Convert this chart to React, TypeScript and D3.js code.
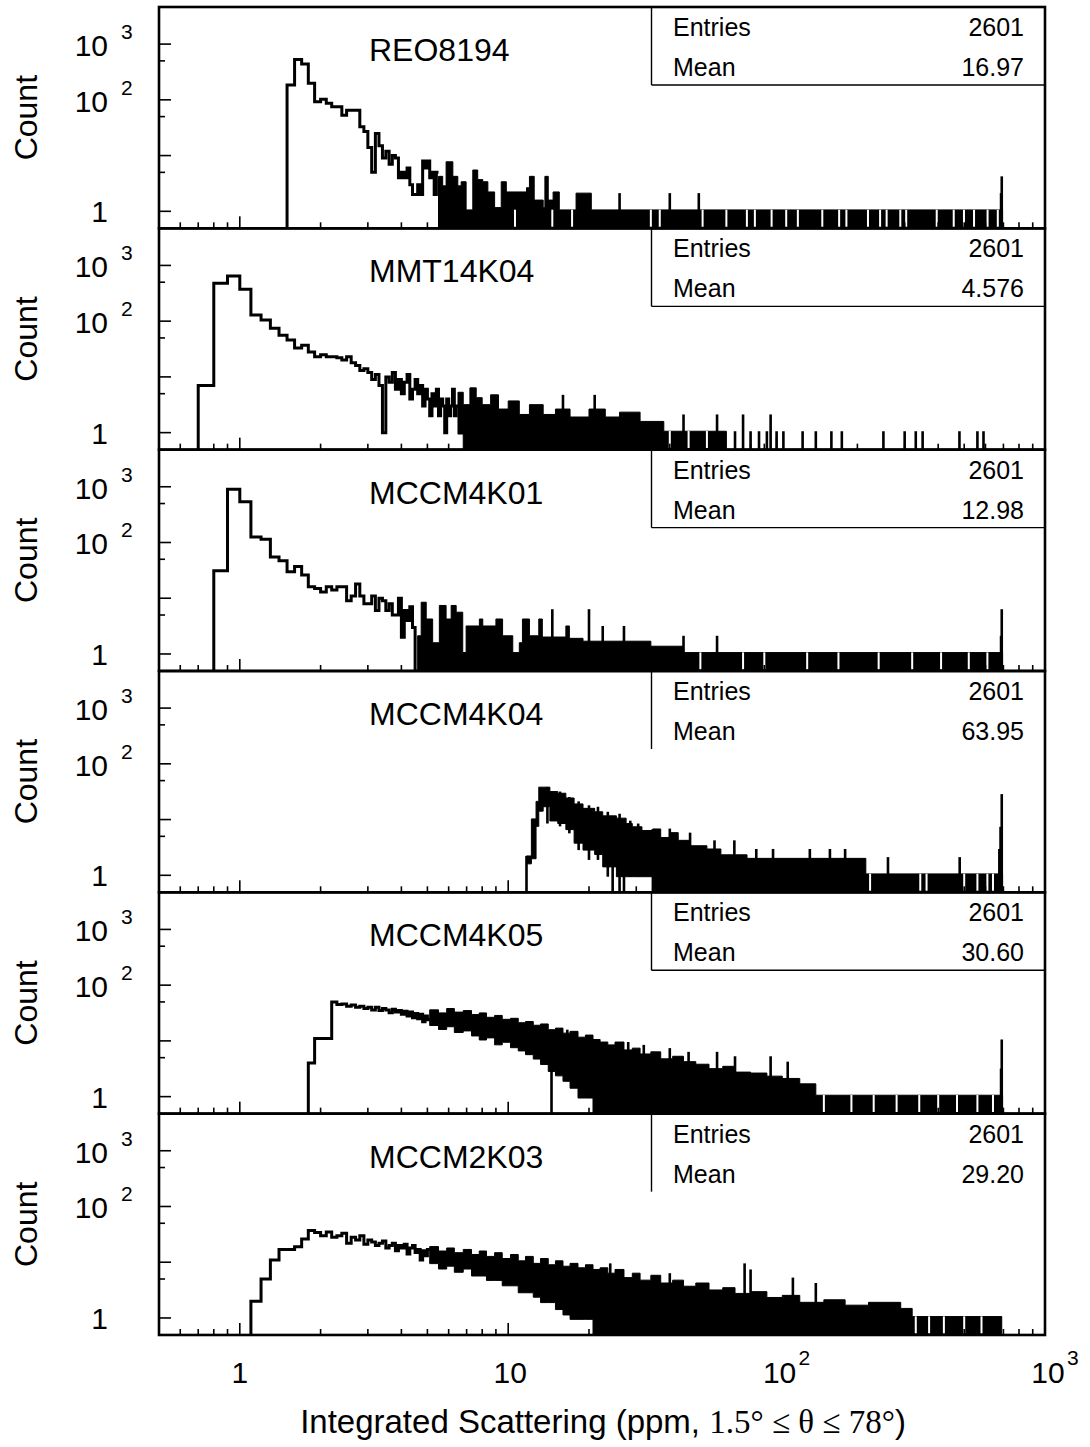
import React from 'react';
import * as d3 from 'd3';

// dense part of each histogram, read as a stepped envelope: [x, topCount, bottomCount] (0 = down to axis)
type Node = [number, number, number];
// single narrow bins sticking out of the envelope: [x, topCount, bottomCount]
type Spike = [number, number, number];

const names = ['REO8194', 'MMT14K04', 'MCCM4K01', 'MCCM4K04', 'MCCM4K05', 'MCCM2K03'];
const entries = ['2601', '2601', '2601', '2601', '2601', '2601'];
const means = ['16.97', '4.576', '12.98', '63.95', '30.60', '29.20'];
const closedBox = [true, true, true, false, true, false];

const xMajor = [1, 10, 100];
const xMinor = [0.6, 0.7, 0.8, 0.9, 2, 3, 4, 5, 6, 7, 8, 9, 20, 30, 40, 50, 60, 70, 80, 90, 200, 300, 400, 500, 600, 700, 800, 900];
const yMajor = [1, 10, 100, 1000];
const yMinor = [5, 50, 500];

// REO8194 (bins of 0.1 ppm from start)
const reoStart = 1.5;
const reoCounts = [185, 530, 440, 198, 92, 102, 87, 75, 75, 53, 65, 65, 65, 33, 27, 14, 5, 25, 15, 9,
  12, 7, 10, 9, 4, 5, 4, 6, 3, 2, 2, 3, 2, 8, 6, 8, 4, 5, 2, 5];
const reoEnv: Node[] = [[5.5, 4, 0], [5.7, 2.7, 0], [5.87, 7.3, 0], [6.22, 4, 0], [6.49, 2.7, 0], [6.68, 3.2, 0],
  [6.97, 1, 0], [7.38, 5.2, 0], [7.7, 3.5, 0], [8.04, 3.2, 0], [8.4, 2.1, 0], [8.9, 1.1, 0], [9.42, 3.2, 0],
  [9.84, 2.1, 0], [11.7, 2.5, 0], [12.0, 4, 0], [12.5, 1.5, 0], [13.5, 1.1, 0], [13.7, 4, 0], [14.1, 1.5, 0],
  [14.7, 2.1, 0], [15.5, 1, 0], [17.9, 2, 0], [20.4, 1, 0], [695, 1, 0]];
const reoSpikes: Spike[] = [[26, 2, 0], [40, 2, 0], [51.3, 2, 0], [686, 2, 0], [690, 4, 0]];
const reoGaps = [10.6, 14.6, 17.3, 34, 36.7, 53, 65, 77.5, 83, 95.8, 108.6, 120, 148, 171, 182, 219, 243, 257,
  289, 304, 395, 457, 499, 544, 611, 667];

// MMT14K04
const mmtStart = 0.7;
const mmtCounts = [7, 478, 648, 373, 129, 105, 75, 56, 46, 33, 37, 28, 23, 25, 23, 23, 22, 20, 23, 18, 16,
  13, 14, 12, 9, 11, 7, 1, 10, 8, 12, 6, 9, 5, 8, 11, 4, 6, 9, 5, 7, 3, 6, 4, 2, 5, 3, 6, 2, 4, 3, 1, 4,
  2, 3, 6, 2, 3];
const mmtEnv: Node[] = [[6.5, 5, 1], [6.8, 3, 0], [7.2, 6, 0], [7.6, 4, 0], [8.0, 3, 0], [8.6, 4.5, 0],
  [9.2, 2.5, 0], [10, 3.5, 0], [11, 2, 0], [12, 3, 0], [13.5, 2, 0], [15, 2.5, 0], [17, 1.8, 0], [20, 2.5, 0],
  [23, 1.8, 0], [26, 2.2, 0], [31, 1.5, 0], [38, 1, 0], [65, 1, 0]];
const mmtSpikes: Spike[] = [[16, 4.5, 0], [21, 4.5, 0], [45, 2, 0], [60, 2, 0],
  [70, 1, 0], [75, 2, 0], [80, 1, 0], [86, 1, 0], [92, 1, 0], [95, 2, 0], [100, 1, 0], [106, 1, 0], [125, 1, 0],
  [140, 1, 0], [160, 1, 0], [175, 1, 0], [250, 1, 0], [300, 1, 0], [330, 1, 0], [350, 1, 0], [480, 1, 0],
  [560, 1, 0], [590, 1, 0]];
const mmtGaps = [40, 47, 55];

// MCCM4K01
const k01Start = 0.8;
const k01Counts = [31, 900, 540, 126, 114, 55, 47, 30, 37, 26, 16, 15, 13, 16, 14, 16, 16, 9, 11, 18, 11,
  8, 8, 11, 6, 10, 9, 6, 8, 5, 5, 10, 2, 6, 4, 7, 3, 0];
const k01Env: Node[] = [[4.6, 2, 0], [4.74, 8, 0], [4.95, 4, 0], [5.23, 1.5, 0], [5.54, 7, 0], [5.87, 4, 0],
  [6.13, 7, 0], [6.4, 5.3, 0], [6.77, 1, 0], [6.97, 3, 0], [7.81, 4, 0], [8.04, 3, 0], [9.0, 4, 0], [9.53, 2, 0],
  [10.4, 1, 0], [11.0, 1.5, 0], [11.3, 4, 0], [12.0, 2, 0], [13.0, 4, 0], [13.4, 1.9, 0], [16.4, 3, 0],
  [16.9, 1.8, 0], [19.0, 1.6, 0], [34, 1.3, 0], [45, 1, 0], [695, 1, 0]];
const k01Spikes: Spike[] = [[14.6, 6, 0], [20, 6, 0], [22.5, 3, 0], [27, 3, 0], [45, 2, 0], [60, 2, 0],
  [686, 2, 0], [690, 6, 0]];
const k01Gaps = [52, 75, 90, 130, 170, 240, 320, 410, 520, 610];

// MCCM4K04 (no resolvable bins, envelope only)
const k04Start = 11.7;
const k04Counts: number[] = [];
const k04Env: Node[] = [[11.7, 2.1, 1.7], [12.2, 9.7, 2.1], [12.7, 20, 8], [13.0, 36, 15], [13.5, 36, 18],
  [14.3, 30, 10], [15.3, 28, 9], [16.4, 23, 7], [17.6, 18, 4], [19.0, 15, 3], [21, 13, 2.5], [22.5, 11, 1.5],
  [25.3, 10, 1], [27.5, 8, 1], [29, 7, 1], [31.5, 6, 1], [34.6, 6.4, 0], [37, 4.5, 0], [40, 5.5, 0], [43, 4, 0],
  [47.5, 3.2, 0], [55, 2.8, 0], [62, 2.2, 0], [77.6, 1.9, 0], [215, 1, 0], [695, 1, 0]];
const k04Spikes: Spike[] = [[11.7, 2.1, 0], [14.0, 36, 9], [15.6, 30, 8], [16.9, 24, 6], [18.3, 20, 3],
  [20, 17, 2], [21.6, 16, 2], [23.5, 13, 1], [24.5, 3, 0], [26, 12, 0], [27, 3, 0], [28.5, 9, 1], [30.5, 8, 1],
  [34.6, 6.4, 0], [40, 6.5, 0], [47.6, 5.5, 0], [58.7, 4, 0], [69.6, 4, 0], [84, 2.8, 0], [97, 2.8, 0],
  [133, 2.8, 0], [158, 2.8, 0], [180, 2.8, 0], [260, 2, 0], [481, 2, 0], [676, 2.8, 0], [683, 7, 0], [690, 27, 0]];
const k04Gaps = [223, 343, 362, 500, 560, 610, 640];

// MCCM4K05
const k05Start = 1.8;
const k05Counts = [4, 11, 11, 11, 50, 45, 46, 42, 44, 40, 42, 38, 40, 36, 40, 35, 38, 36, 32, 37, 33, 35,
  30, 34, 28, 33, 26, 31, 25, 30, 22, 28, 24];
const k05Env: Node[] = [[5.1, 34, 20], [5.5, 30, 17], [5.9, 36, 19], [6.3, 31, 15], [6.8, 33, 16], [7.3, 28, 13],
  [7.8, 30, 11], [8.3, 25, 12], [8.9, 27, 9], [9.5, 23, 10], [10.2, 24, 8], [10.9, 20, 7], [11.6, 21, 6],
  [12.4, 18, 5], [13.2, 19, 4], [14.1, 15, 3], [15, 16, 2.5], [16, 13, 2], [17, 14, 1.5], [18.2, 11, 1],
  [19.4, 12, 1], [20.7, 10, 0], [22, 9, 0], [23.5, 8, 0], [25, 9, 0], [27, 6.5, 0], [29, 7, 0], [31, 5.5, 0],
  [34, 6, 0], [37, 4.5, 0], [41, 5, 0], [45, 4, 0], [50, 3.6, 0], [56, 3, 0], [63, 3.3, 0], [70, 2.6, 0],
  [80, 2.5, 0], [92, 2.2, 0], [105, 2, 0], [122, 1.6, 0], [140, 1, 0], [695, 1, 0]];
const k05Spikes: Spike[] = [[14.5, 12, 0], [16.6, 15, 2], [20, 12, 1], [28, 9, 0], [32, 8, 0], [40, 7, 0],
  [47, 6, 0], [60, 6, 0], [70, 5, 0], [95, 5, 0], [110, 4, 0], [686, 3, 0], [690, 10, 0]];
const k05Gaps = [150, 190, 230, 280, 340, 400, 470, 560, 640];

// MCCM2K03
const k03Start = 1.1;
const k03Counts = [2, 5, 11, 17, 17, 19, 26, 37, 34, 30, 35, 28, 30, 33, 22, 28, 25, 30, 21, 25, 23, 20,
  22, 24, 18, 20, 22, 16, 20, 18, 21, 14, 18, 20, 15, 17, 11, 16, 13, 17];
const k03Env: Node[] = [[5.1, 18, 10], [5.5, 15, 8], [5.9, 17, 9], [6.3, 14, 7], [6.8, 16, 8], [7.3, 13, 6],
  [7.8, 15, 6], [8.3, 12, 5], [8.9, 14, 5], [9.5, 11, 4], [10.2, 13, 4], [10.9, 10, 3], [11.6, 12, 3],
  [12.4, 9, 2.5], [13.2, 11, 2], [14.1, 8.5, 2], [15, 10, 1.5], [16, 8, 1.2], [17, 9, 1], [18.2, 7.5, 1],
  [19.4, 8.5, 1], [20.7, 7, 0], [22, 7.5, 0], [23.5, 6, 0], [25, 7, 0], [27, 5, 0], [29, 6, 0], [31, 4.5, 0],
  [34, 5.5, 0], [37, 4, 0], [41, 4.5, 0], [45, 3.5, 0], [50, 4, 0], [56, 3, 0], [63, 3.3, 0], [70, 2.6, 0],
  [80, 2.8, 0], [92, 2.2, 0], [105, 2.4, 0], [122, 1.8, 0], [150, 2, 0], [180, 1.6, 0], [220, 1.8, 0],
  [290, 1.4, 0], [320, 1, 0], [690, 1, 0]];
const k03Spikes: Spike[] = [[24, 9, 0], [40, 6, 0], [76, 9, 0], [80, 7, 0], [115, 5, 0], [140, 4, 0]];
const k03Gaps = [330, 370, 420, 500, 580];

const hists = [
  { start: reoStart, counts: reoCounts, env: reoEnv, spikes: reoSpikes, gaps: reoGaps },
  { start: mmtStart, counts: mmtCounts, env: mmtEnv, spikes: mmtSpikes, gaps: mmtGaps },
  { start: k01Start, counts: k01Counts, env: k01Env, spikes: k01Spikes, gaps: k01Gaps },
  { start: k04Start, counts: k04Counts, env: k04Env, spikes: k04Spikes, gaps: k04Gaps },
  { start: k05Start, counts: k05Counts, env: k05Env, spikes: k05Spikes, gaps: k05Gaps },
  { start: k03Start, counts: k03Counts, env: k03Env, spikes: k03Spikes, gaps: k03Gaps },
];

const W = 1090;
const H = 1447;
const left = 159;
const right = 1045;
const top0 = 7;
const panelH = 221.33;
const binW = 0.1;
const sans = '"Liberation Sans", Arial, Helvetica, sans-serif';
const serif = '"Liberation Serif", "Times New Roman", serif';

const x = d3.scaleLog().domain([0.5, 1000]).range([left, right]);

function Panel({ i }: { i: number }) {
  const h = hists[i];
  const top = top0 + i * panelH;
  const bottom = top + panelH;
  const y = d3.scaleLog().domain([0.495, 4630]).range([bottom, top]);
  const yc = (c: number) => (c < 0.9 ? bottom + 3 : y(c));

  const pts: [number, number][] = [];
  if (h.counts.length) {
    pts.push([x(h.start), bottom + 3]);
    h.counts.forEach((c, k) => {
      const e0 = +(h.start + k * binW).toFixed(2);
      const e1 = +(h.start + (k + 1) * binW).toFixed(2);
      pts.push([x(e0), yc(c)]);
      pts.push([x(e1), yc(c)]);
    });
  }
  const line = d3.line();
  const area = d3.area<Node>()
    .curve(d3.curveStepAfter)
    .x((d) => x(d[0]))
    .y0((d) => yc(d[2]) + 1.4)
    .y1((d) => y(d[1]) - 1.4);
  const clipId = `clip${i}`;
  const boxL = 651.5;
  const boxB = top + 78;

  return (
    <g>
      <defs>
        <clipPath id={clipId}>
          <rect x={left} y={top} width={right - left} height={panelH} />
        </clipPath>
      </defs>
      <g clipPath={`url(#${clipId})`}>
        <path d={area(h.env) || ''} fill="#000" stroke="#000" strokeWidth={1} />
        {h.gaps.map((g, k) => (
          <rect key={`g${k}`} x={x(g) - 1} width={2} y={y(1) - 1.6} height={bottom - y(1)} fill="#fff" />
        ))}
        {h.spikes.map((s, k) => (
          <rect key={`s${k}`} x={x(s[0]) - 1.3} width={2.6} y={y(s[1]) - 1.4}
            height={yc(s[2]) - y(s[1]) + 2.8} fill="#000" />
        ))}
        {pts.length > 0 && (
          <path d={line(pts) || ''} fill="none" stroke="#000" strokeWidth={3} strokeLinejoin="miter" />
        )}
      </g>

      {/* stats box */}
      <line x1={boxL} x2={boxL} y1={top} y2={boxB} stroke="#000" strokeWidth={1.4} />
      {closedBox[i] && <line x1={boxL} x2={right} y1={boxB} y2={boxB} stroke="#000" strokeWidth={1.4} />}
      <text x={673} y={top + 29} fontFamily={sans} fontSize={25}>Entries</text>
      <text x={1024} y={top + 29} fontFamily={sans} fontSize={25} textAnchor="end">{entries[i]}</text>
      <text x={673} y={top + 69} fontFamily={sans} fontSize={25}>Mean</text>
      <text x={1024} y={top + 69} fontFamily={sans} fontSize={25} textAnchor="end">{means[i]}</text>

      {/* title */}
      <text x={369} y={top + 54} fontFamily={sans} fontSize={32}>{names[i]}</text>

      {/* ticks */}
      {xMajor.map((v) => (
        <line key={`xM${v}`} x1={x(v)} x2={x(v)} y1={bottom} y2={bottom - 12} stroke="#000" strokeWidth={1.6} />
      ))}
      {xMinor.map((v) => (
        <line key={`xm${v}`} x1={x(v)} x2={x(v)} y1={bottom} y2={bottom - 6} stroke="#000" strokeWidth={1.6} />
      ))}
      {yMajor.map((v) => (
        <line key={`yM${v}`} x1={left} x2={left + 12} y1={y(v)} y2={y(v)} stroke="#000" strokeWidth={1.6} />
      ))}
      {yMinor.map((v) => (
        <line key={`ym${v}`} x1={left} x2={left + 6} y1={y(v)} y2={y(v)} stroke="#000" strokeWidth={1.6} />
      ))}

      {/* y labels */}
      <text x={108} y={y(1) + 11} fontFamily={sans} fontSize={30} textAnchor="end">1</text>
      {[[100, '2'], [1000, '3']].map(([v, e]) => (
        <g key={`yl${v}`}>
          <text x={108} y={y(v as number) + 12} fontFamily={sans} fontSize={30} textAnchor="end">10</text>
          <text x={121} y={y(v as number) - 5} fontFamily={sans} fontSize={21}>{e}</text>
        </g>
      ))}
      <text transform={`translate(37,${top + panelH / 2}) rotate(-90)`} fontFamily={sans} fontSize={32}
        textAnchor="middle">Count</text>

      <rect x={left} y={top} width={right - left} height={panelH} fill="none" stroke="#000" strokeWidth={2.6} />
    </g>
  );
}

export default function App() {
  const base = 1383;
  return (
    <svg width={W} height={H} style={{ position: 'absolute', left: 0, top: 0, background: '#fff' }}>
      <rect width={W} height={H} fill="#fff" />
      {names.map((_, i) => <Panel key={i} i={i} />)}
      <text x={x(1)} y={base} fontFamily={sans} fontSize={30} textAnchor="middle">1</text>
      <text x={x(10) + 2} y={base} fontFamily={sans} fontSize={30} textAnchor="middle">10</text>
      {[[100, '2'], [1000, '3']].map(([v, e]) => (
        <g key={`xl${v}`}>
          <text x={x(v as number) + 3} y={base} fontFamily={sans} fontSize={30} textAnchor="middle">10</text>
          <text x={x(v as number) + 22} y={base - 18} fontFamily={sans} fontSize={21}>{e}</text>
        </g>
      ))}
      <text x={603} y={1433} fontFamily={sans} fontSize={33} textAnchor="middle">
        Integrated Scattering (ppm, <tspan fontFamily={serif}>1.5° ≤ θ ≤ 78°</tspan>)
      </text>
    </svg>
  );
}
